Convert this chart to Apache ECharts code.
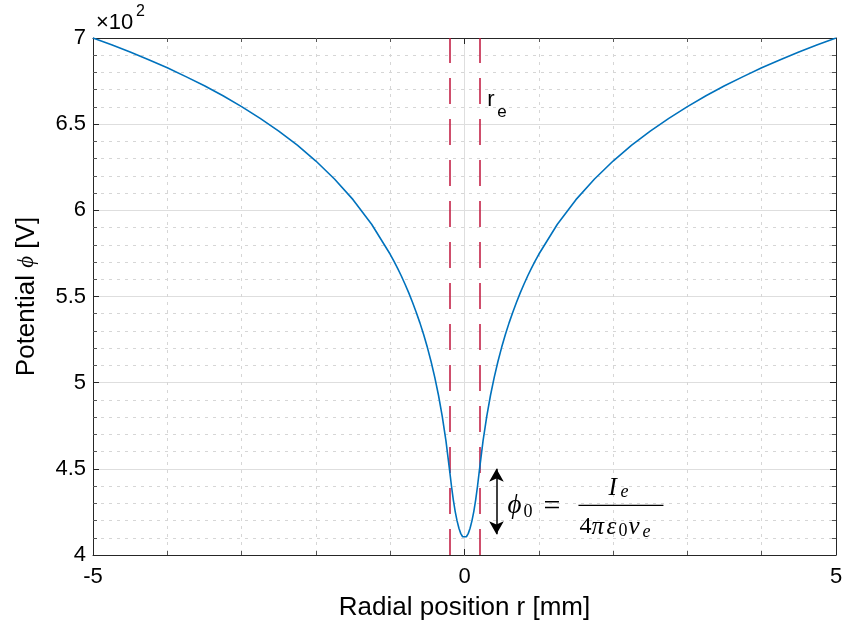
<!DOCTYPE html>
<html>
<head>
<meta charset="utf-8">
<script src="https://cdn.jsdelivr.net/npm/echarts@6/dist/echarts.min.js"></script>
<style>html,body{margin:0;padding:0;background:#fff}#c{width:846px;height:621px}</style>
</head>
<body>
<div id="c"></div>
<script>
// Radial position r [mm]
const radius = [-5, -4.75, -4.5, -4.25, -4, -3.75, -3.5, -3.25, -3, -2.75, -2.5, -2.25, -2, -1.75, -1.5, -1.25, -1,
  -0.95, -0.9, -0.85, -0.8, -0.75, -0.7, -0.65, -0.6, -0.55, -0.5, -0.45, -0.4, -0.35, -0.3, -0.25, -0.2,
  -0.175, -0.15, -0.125, -0.1, -0.075, -0.05, -0.025, 0, 0.025, 0.05, 0.075, 0.1, 0.125, 0.15, 0.175,
  0.2, 0.25, 0.3, 0.35, 0.4, 0.45, 0.5, 0.55, 0.6, 0.65, 0.7, 0.75, 0.8, 0.85, 0.9, 0.95,
  1, 1.25, 1.5, 1.75, 2, 2.25, 2.5, 2.75, 3, 3.25, 3.5, 3.75, 4, 4.25, 4.5, 4.75, 5];
// Potential phi [x10^2 V]
const potential = [7.000, 6.961, 6.919, 6.874, 6.827, 6.776, 6.723, 6.665, 6.602, 6.534, 6.460, 6.378, 6.286, 6.182, 6.062, 5.919, 5.745,
  5.705, 5.663, 5.619, 5.571, 5.521, 5.467, 5.409, 5.347, 5.279, 5.205, 5.123, 5.031, 4.927, 4.806, 4.664, 4.490,
  4.399, 4.319, 4.252, 4.198, 4.155, 4.124, 4.106, 4.100, 4.106, 4.124, 4.155, 4.198, 4.252, 4.319, 4.399,
  4.490, 4.664, 4.806, 4.927, 5.031, 5.123, 5.205, 5.279, 5.347, 5.409, 5.467, 5.521, 5.571, 5.619, 5.663, 5.705,
  5.745, 5.919, 6.062, 6.182, 6.286, 6.378, 6.460, 6.534, 6.602, 6.665, 6.723, 6.776, 6.827, 6.874, 6.919, 6.961, 7.000];
const beamEdges = [-0.2, 0.2];                  // r_e
const arrowSpan = [[0.43, 4.12], [0.43, 4.50]]; // phi_0 arrow
const xTicks = [-5, 0, 5];
const yTicks = [4, 4.5, 5, 5.5, 6, 6.5, 7];

const chart = echarts.init(document.getElementById('c'));
const sans = '"Liberation Sans", Arial, sans-serif';
const serif = '"Liberation Serif", "DejaVu Serif", serif';
const axisCol = '#262626';
const gridMajor = {show: true, lineStyle: {color: '#dedede', width: 1, type: 'solid'}};
const gridMinor = {show: true, lineStyle: {color: '#d6d6d6', width: 1, type: [3, 5]}};

function xAx(pos, labels) {
  return {
    type: 'value', position: pos, min: xTicks[0], max: xTicks[xTicks.length - 1], interval: 5,
    axisLine: {show: true, onZero: false, lineStyle: {color: axisCol, width: 1}},
    axisTick: {show: true, inside: true, length: 6, lineStyle: {color: axisCol}},
    minorTick: {show: true, splitNumber: 5, length: 4, lineStyle: {color: '#555'}},
    axisLabel: {show: labels, color: '#000', fontSize: 22, fontFamily: sans, margin: 11},
    splitLine: pos === 'bottom' ? gridMajor : {show: false},
    minorSplitLine: pos === 'bottom' ? gridMinor : {show: false},
    name: labels ? 'Radial position r [mm]' : '', nameLocation: 'middle', nameGap: 40,
    nameTextStyle: {color: '#000', fontSize: 26, fontFamily: sans}
  };
}
function yAx(pos, labels) {
  return {
    type: 'value', position: pos, min: yTicks[0], max: yTicks[yTicks.length - 1], interval: 0.5,
    axisLine: {show: true, onZero: false, lineStyle: {color: axisCol, width: 1}},
    axisTick: {show: true, inside: true, length: 6, lineStyle: {color: axisCol}},
    minorTick: {show: true, splitNumber: 5, length: 4, lineStyle: {color: '#555'}},
    axisLabel: {show: labels, color: '#000', fontSize: 22, fontFamily: sans, margin: 7},
    splitLine: pos === 'left' ? gridMajor : {show: false},
    minorSplitLine: pos === 'left' ? gridMinor : {show: false},
    name: labels ? '{a|Potential }{b|ϕ}{a| [V]}' : '', nameLocation: 'middle', nameGap: 53,
    nameTextStyle: {color: '#000', rich: {
      a: {fontSize: 26, fontFamily: sans, color: '#000'},
      b: {fontSize: 23, fontFamily: serif, fontStyle: 'italic', color: '#000'}
    }}
  };
}

chart.setOption({
  animation: false,
  backgroundColor: '#fff',
  grid: {left: 93, right: 10, top: 38, bottom: 66, outerBoundsMode: 'none', containLabel: false},
  xAxis: [xAx('bottom', true), xAx('top', false)],
  yAxis: [yAx('left', true), yAx('right', false)],
  series: [
    {
      type: 'line', xAxisIndex: 0, yAxisIndex: 0, symbol: 'none', smooth: false,
      data: radius.map((r, i) => [r, potential[i]]),
      lineStyle: {color: '#0072BD', width: 1.6}, z: 5
    },
    {
      type: 'line', xAxisIndex: 0, yAxisIndex: 0, data: [], symbol: 'none',
      markLine: {
        silent: true, symbol: ['none', 'none'], label: {show: false},
        lineStyle: {color: '#c0143c', width: 1.5, type: [26, 15]},
        data: beamEdges.map(v => ({xAxis: v}))
      }, z: 4
    },
    {
      type: 'line', xAxisIndex: 0, yAxisIndex: 0, data: [], symbol: 'none',
      markLine: {
        silent: true, symbol: ['arrow', 'arrow'], symbolSize: [11, 13], label: {show: false},
        lineStyle: {color: '#000', width: 1.5, type: 'solid'},
        data: [[{coord: arrowSpan[0]}, {coord: arrowSpan[1]}]]
      }, z: 6
    }
  ]
});

// annotations anchored in data coordinates
const a = chart.convertToPixel({xAxisIndex: 0, yAxisIndex: 0}, [arrowSpan[0][0], 4.3]);
const re = chart.convertToPixel({xAxisIndex: 0, yAxisIndex: 0}, [beamEdges[1], 7]);
const ax = a[0], ay = a[1];
function t(txt, x, y, size, italic, fam) {
  return {type: 'text', x: x, y: y, z: 10, style: {
    text: txt, fill: '#000', fontSize: size, fontFamily: fam || serif,
    fontStyle: italic ? 'italic' : 'normal', align: 'left', verticalAlign: 'middle'}};
}
chart.setOption({graphic: [
  t('ϕ', ax + 11, ay + 3, 27, true),
  t('0', ax + 27, ay + 9, 18, false),
  t('=', ax + 47, ay + 4, 30, false),
  {type: 'line', z: 10, shape: {x1: ax + 82, y1: ay + 2, x2: ax + 167, y2: ay + 2}, style: {stroke: '#000', lineWidth: 1.2}},
  t('I', ax + 112, ay - 15, 25, true),
  t('e', ax + 124, ay - 11, 18, true),
  t('4', ax + 83, ay + 23, 24, false),
  t('π', ax + 95, ay + 24, 25, true),
  t('ε', ax + 110, ay + 24, 25, true),
  t('0', ax + 122, ay + 28, 18, false),
  t('v', ax + 132, ay + 24, 25, true),
  t('e', ax + 146, ay + 29, 18, true),
  t('r', re[0] + 8, re[1] + 62, 22, false, sans),
  t('e', re[0] + 18, re[1] + 74, 17, false, sans),
  t('×10', 96, 23, 22, false, sans),
  t('2', 136, 12, 16, false, sans)
]});
</script>
</body>
</html>
